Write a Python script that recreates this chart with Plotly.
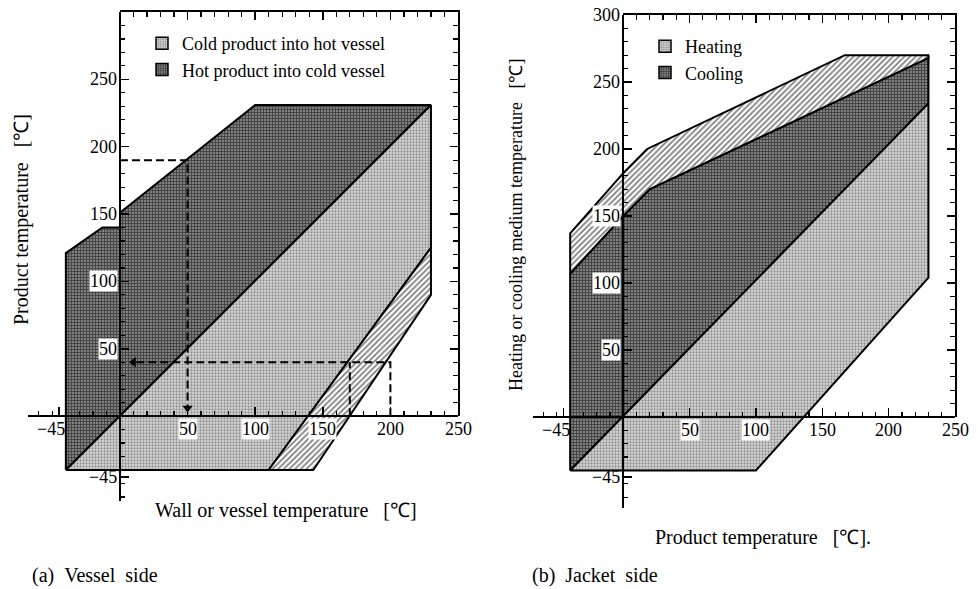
import plotly.graph_objects as go

W, H = 978, 589
SERIF = "Liberation Serif"
NB = "\u00a0"

# ---------------- data: (a) vessel side ----------------
# x = wall / vessel temperature, y = product temperature
vessel_cold_x = [-40, 230, 230, 110]
vessel_cold_y = [-40, 231, 125, -40]
vessel_hot_x = [-40, -40, -13, 0, 0, 100, 230]
vessel_hot_y = [-40, 121, 140, 140, 151, 231, 231]
vessel_hatch_x = [110, 230, 230, 143]
vessel_hatch_y = [-40, 125, 90, -40]
# reading example (dashed guide lines)
guide1_x = [0, 50, 50]
guide1_y = [190, 190, 6]
guide2_x = [200, 200, 200, 10]
guide2_y = [0, 40, 40, 40]
guide3_x = [170, 170]
guide3_y = [0, 40]

# ---------------- data: (b) jacket side ----------------
# x = product temperature, y = heating / cooling medium temperature
jacket_heat_x = [-40, 230, 230, 100]
jacket_heat_y = [-40, 234, 104, -40]
jacket_cool_x = [-40, -40, 0, 20, 230, 230]
jacket_cool_y = [-40, 107, 150, 170, 268, 234]
jacket_hatch_x = [-40, -40, 0, 18, 167, 230, 230, 20, 0]
jacket_hatch_y = [107, 137, 182, 200, 270, 270, 268, 170, 150]

# ---------------- tick labels ----------------
x_tick_vals = [-45, 50, 100, 150, 200, 250]
x_tick_text = ["−45", "50", "100", "150", "200", "250"]
yL_tick_vals = [-45, 50, 100, 150, 200, 250]
yL_tick_text = ["−45", "50", "100", "150", "200", "250"]
yR_tick_vals = [-45, 50, 100, 150, 200, 250, 300]
yR_tick_text = ["−45", "50", "100", "150", "200", "250", "300"]

# ---------------- styles ----------------
LIGHT = dict(shape=".", fgcolor="#4a4a4a", bgcolor="#d8d8d8", size=3, solidity=0.45)
DARK = dict(shape="+", fgcolor="#000000", bgcolor="#808080", size=3, solidity=0.5)
HATCH = dict(shape="/", fgcolor="#000000", bgcolor="#ffffff", size=4, solidity=0.45)

# panel geometry (pixels)
panels = {
    "L": dict(xr=[-68, 250], yr=[-63, 300], xpx=[28, 458], ypx=[12, 501]),
    "R": dict(xr=[-68, 250], yr=[-68, 300], xpx=[533, 955], ypx=[15, 508]),
}


def fx(p):
    return p / W


def fy(p):
    return 1 - p / H


fig = go.Figure()


def poly(x, y, pat, xa, ya):
    fig.add_trace(go.Scatter(
        x=x + [x[0]], y=y + [y[0]], mode="lines", fill="toself",
        fillcolor=pat["bgcolor"], fillpattern=pat,
        line=dict(color="black", width=2),
        xaxis=xa, yaxis=ya, showlegend=False, hoverinfo="skip"))


def legend_item(name, pat, xa, ya, legend):
    fig.add_trace(go.Bar(x=[None], y=[None], name=name, xaxis=xa, yaxis=ya, legend=legend,
                         marker=dict(color=pat["bgcolor"], pattern=pat,
                                     line=dict(color="black", width=1.5)),
                         hoverinfo="skip"))


# left panel
poly(vessel_hot_x, vessel_hot_y, DARK, "x", "y")
poly(vessel_cold_x, vessel_cold_y, LIGHT, "x", "y")
poly(vessel_hatch_x, vessel_hatch_y, HATCH, "x", "y")
for gx, gy in [(guide1_x, guide1_y), (guide2_x, guide2_y), (guide3_x, guide3_y)]:
    fig.add_trace(go.Scatter(x=gx, y=gy, mode="lines", line=dict(color="black", width=2, dash="8px,4px"),
                             showlegend=False, hoverinfo="skip", xaxis="x", yaxis="y"))
fig.add_trace(go.Scatter(x=[guide1_x[-1], guide2_x[-1]], y=[guide1_y[-1], guide2_y[-1]], mode="markers",
                         marker=dict(symbol=["triangle-down", "triangle-left"], size=9, color="black"),
                         showlegend=False, hoverinfo="skip", xaxis="x", yaxis="y"))

# right panel
poly(jacket_cool_x, jacket_cool_y, DARK, "x2", "y2")
poly(jacket_heat_x, jacket_heat_y, LIGHT, "x2", "y2")
poly(jacket_hatch_x, jacket_hatch_y, HATCH, "x2", "y2")

# legend entries (placed on the empty frame subplots)
legend_item("Cold product into hot vessel", LIGHT, "x3", "y3", "legend")
legend_item("Hot product into cold vessel", DARK, "x3", "y3", "legend")
legend_item("Heating", LIGHT, "x4", "y4", "legend2")
legend_item("Cooling", DARK, "x4", "y4", "legend2")

layout = dict(width=W, height=H, margin=dict(l=0, r=0, t=0, b=0), autosize=False,
              paper_bgcolor="white", plot_bgcolor="rgba(0,0,0,0)",
              font=dict(family=SERIF, size=18, color="black"), showlegend=True)

AX = dict(showline=True, linecolor="black", linewidth=2, ticks="inside", tickcolor="black",
          tickwidth=1.5, ticklen=8, showticklabels=False, showgrid=False, zeroline=False,
          fixedrange=True,
          minor=dict(ticks="inside", ticklen=4, tickwidth=1.2, tickcolor="black", dtick=10, tick0=0))

annotations = []
for key, (xa, ya, fxa, fya, yv, yt) in {
    "L": ("xaxis", "yaxis", "xaxis3", "yaxis3", yL_tick_vals, yL_tick_text),
    "R": ("xaxis2", "yaxis2", "xaxis4", "yaxis4", yR_tick_vals, yR_tick_text),
}.items():
    p = panels[key]
    x0p, x1p = p["xpx"]
    y0p, y1p = p["ypx"]  # top, bottom
    xr, yr = p["xr"], p["yr"]
    xzero = x0p + (0 - xr[0]) / (xr[1] - xr[0]) * (x1p - x0p)
    yzero = y0p + (yr[1] - 0) / (yr[1] - yr[0]) * (y1p - y0p)
    layout[xa] = dict(AX, domain=[fx(x0p), fx(x1p)], range=xr, anchor="free", position=fy(yzero),
                      tickvals=x_tick_vals)
    layout[ya] = dict(AX, domain=[fy(y1p), fy(y0p)], range=yr, anchor="free", position=fx(xzero),
                      tickvals=yv)
    layout[fxa] = dict(AX, domain=[fx(xzero), fx(x1p)], range=[0, 250], anchor=fya.replace("axis", ""),
                       side="top", dtick=50, tick0=0, minor=dict(AX["minor"], ticklen=5))
    layout[fya] = dict(AX, domain=[fy(yzero), fy(y0p)], range=[0, 300], anchor=fxa.replace("axis", ""),
                       side="right", dtick=50, tick0=0, minor=dict(AX["minor"], ticklen=5))
    xref = xa.replace("axis", "")
    yref = ya.replace("axis", "")
    for v, t in zip(x_tick_vals, x_tick_text):
        annotations.append(dict(x=v, y=0, xref=xref, yref=yref, text=t, showarrow=False,
                                xanchor="center", yanchor="top", yshift=-2,
                                xshift=-8 if v < 0 else 0,
                                bgcolor="white" if 0 < v < 160 else "rgba(0,0,0,0)",
                                borderpad=0, font=dict(size=18)))
    for v, t in zip(yv, yt):
        annotations.append(dict(x=0, y=v, xref=xref, yref=yref, text=t, showarrow=False,
                                xanchor="right", yanchor="middle", xshift=-2,
                                bgcolor="white" if 0 < v < 160 else "rgba(0,0,0,0)",
                                borderpad=0, font=dict(size=18)))

# axis titles and captions
annotations += [
    dict(x=fx(22), y=fy(220), xref="paper", yref="paper",
         text="Product temperature" + NB * 3 + "[℃]",
         textangle=-90, showarrow=False, xanchor="center", yanchor="middle", font=dict(size=20)),
    dict(x=fx(286), y=fy(510), xref="paper", yref="paper",
         text="Wall or vessel temperature" + NB * 3 + "[℃]",
         showarrow=False, xanchor="center", yanchor="middle", font=dict(size=20)),
    dict(x=fx(30), y=fy(575), xref="paper", yref="paper", text="(a)" + NB * 2 + "Vessel" + NB * 2 + "side",
         xanchor="left", yanchor="middle", showarrow=False, font=dict(size=20)),
    dict(x=fx(516), y=fy(225), xref="paper", yref="paper",
         text="Heating or cooling medium temperature" + NB * 3 + "[℃]", textangle=-90, showarrow=False,
         xanchor="center", yanchor="middle", font=dict(size=18)),
    dict(x=fx(763), y=fy(537), xref="paper", yref="paper",
         text="Product temperature" + NB * 3 + "[℃].",
         showarrow=False, xanchor="center", yanchor="middle", font=dict(size=20)),
    dict(x=fx(530), y=fy(575), xref="paper", yref="paper", text="(b)" + NB * 2 + "Jacket" + NB * 2 + "side",
         xanchor="left", yanchor="middle", showarrow=False, font=dict(size=20)),
]
layout["annotations"] = annotations
layout["legend"] = dict(x=fx(142), y=fy(25), xanchor="left", yanchor="top", bgcolor="rgba(0,0,0,0)",
                        font=dict(size=18), itemwidth=30, tracegroupgap=0)
layout["legend2"] = dict(x=fx(645), y=fy(28), xanchor="left", yanchor="top", bgcolor="rgba(0,0,0,0)",
                         font=dict(size=18), itemwidth=30, tracegroupgap=0)

fig.update_layout(**layout)
fig.write_html("out.html", config={"displayModeBar": False, "staticPlot": True},
               post_script="document.body.style.margin='0';document.body.style.overflow='hidden';")
